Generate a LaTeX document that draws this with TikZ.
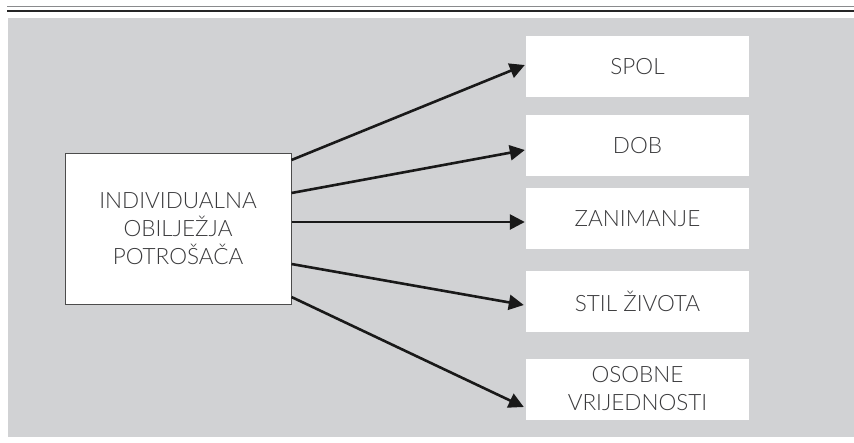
\documentclass[tikz,border=0pt]{standalone}
\usepackage{fontspec}
\setmainfont{Lato}[UprightFont={* Light}]
\usepackage{tikz}
\usetikzlibrary{arrows.meta, positioning}

\definecolor{panelgray}{HTML}{D1D2D4}
\definecolor{rulegray}{HTML}{8A8B8D}
\definecolor{textgray}{HTML}{3A3A3C}

\begin{document}
\begin{tikzpicture}[
  x=1pt, y=-1pt,
  every node/.style={rectangle, fill=white, align=center, text=textgray,
    font=\fontsize{22.5}{28}\selectfont, inner sep=0pt},
  item/.style={minimum width=223pt, minimum height=61pt},
  arrow/.style={-{Triangle[length=15pt,width=15pt]}, line width=2.6pt, draw=black!90}
]
\useasboundingbox (0,0) rectangle (854,442);

% frame
\fill[panelgray] (8,18) rectangle (854,437);
\draw[rulegray, line width=1.7pt] (7,6.5) -- (854,6.5);
\draw[black!85, line width=1.5pt] (7,10.8) -- (854,10.8);

\node (indiv) [draw=black!70, line width=1pt, minimum width=226pt, minimum height=151pt] at (178,228.5)
  {INDIVIDUALNA\\OBILJEŽJA\\POTROŠAČA};

\node (spol) [item] at (637.5,66.5) {SPOL};
\node (dob) [item] at (637.5,145.5) {DOB};
\node (zanimanje) [item] at (637.5,218.5) {ZANIMANJE};
\node (stil) [item] at (637.5,301) {STIL ŽIVOTA};
\node (osobne) [item] at (637.5,389) {OSOBNE\\VRIJEDNOSTI};

\draw[arrow] ([yshift=68.5]indiv.east) -- ([xshift=-1pt,yshift=1.5]spol.west);
\draw[arrow] ([yshift=35.5]indiv.east) -- ([xshift=-1pt,yshift=-4.5]dob.west);
\draw[arrow] ([yshift=6.5]indiv.east) -- ([xshift=-1pt,yshift=-3.5]zanimanje.west);
\draw[arrow] ([yshift=-35.5]indiv.east) -- ([xshift=-2pt,yshift=-4]stil.west);
\draw[arrow] ([yshift=-68.5]indiv.east) -- ([xshift=-2pt,yshift=-18]osobne.west);

\end{tikzpicture}
\end{document}
